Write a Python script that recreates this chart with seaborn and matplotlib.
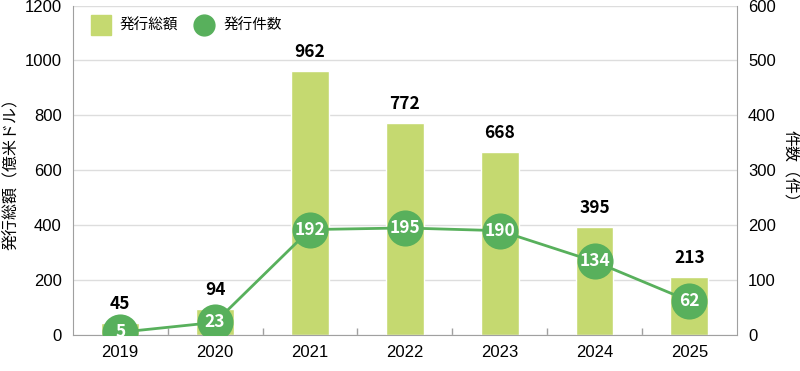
import numpy as np
import pandas as pd
import seaborn as sns
import matplotlib.pyplot as plt
from matplotlib.lines import Line2D

years = ['2019', '2020', '2021', '2022', '2023', '2024', '2025']
amounts = [45, 94, 962, 772, 668, 395, 213]   # 発行総額（億米ドル）
counts = [5, 23, 192, 195, 190, 134, 62]      # 発行件数（件）

bar_color = '#c5d970'
dot_color = '#58b05c'
grid_color = '#dddddd'
spine_color = '#a0a0a0'

sns.set_style('white')
plt.rcParams['font.family'] = ['Liberation Sans', 'Noto Sans CJK JP']
plt.rcParams['text.color'] = 'black'
plt.rcParams['axes.labelcolor'] = 'black'
plt.rcParams['xtick.color'] = 'black'
plt.rcParams['ytick.color'] = 'black'
jp = ['Noto Sans CJK JP', 'DejaVu Sans']

df = pd.DataFrame({'year': years, 'amount': amounts, 'count': counts})

fig = plt.figure(figsize=(8, 3.71), dpi=100)
ax = fig.add_axes([0.091, 0.097, 0.83, 0.888])

sns.barplot(data=df, x='year', y='amount', color=bar_color, width=0.4,
            saturation=1, ax=ax, zorder=2)
ax.set_xlim(-0.5, len(years) - 0.5)
ax.set_ylim(0, 1200)
ax.set_yticks(range(0, 1201, 200))
ax.yaxis.grid(True, color=grid_color, lw=1, zorder=0)
ax.set_axisbelow(True)
ax.set_xlabel('')
ax.set_ylabel('発行総額（億米ドル）', family=jp, fontsize=11.5, labelpad=3)
ax.tick_params(axis='y', length=0, labelsize=12, pad=8)
ax.tick_params(axis='x', length=0, labelsize=12, pad=7)
ax.set_xticks(np.arange(0.5, len(years) - 1), minor=True)
ax.tick_params(axis='x', which='minor', bottom=True, direction='in',
               length=5, color=spine_color, width=1)
for s in ['top', 'right']:
    ax.spines[s].set_visible(False)
ax.spines['left'].set_color(spine_color)
ax.spines['bottom'].set_color(spine_color)

for i, v in enumerate(amounts):
    ax.annotate(str(v), (i, v), xytext=(0, 7), textcoords='offset points',
                ha='center', va='bottom', fontsize=12.5, fontweight='bold',
                family=jp)

ax2 = ax.twinx()
ax2.plot(range(len(years)), counts, color=dot_color, lw=2, marker='o',
         markersize=26, markeredgewidth=0, zorder=3)
ax2.set_ylim(0, 600)
ax2.set_yticks(range(0, 601, 100))
ax2.tick_params(axis='y', length=0, labelsize=12, pad=8)
ax2.set_ylabel('件数（件）', family=jp, fontsize=11.5, rotation=-90,
               labelpad=16)
for s in ['top', 'left', 'bottom']:
    ax2.spines[s].set_visible(False)
ax2.spines['right'].set_color(spine_color)
for i, c in enumerate(counts):
    ax2.text(i, c, str(c), ha='center', va='center', color='white',
             fontsize=12.5, fontweight='bold', family=jp, zorder=4)

handles = [
    Line2D([], [], marker='s', ls='', color=bar_color, markersize=14),
    Line2D([], [], marker='o', ls='', color=dot_color, markersize=15),
]
ax.legend(handles, ['発行総額', '発行件数'], loc='upper left', ncol=2,
          frameon=False, prop={'family': jp, 'size': 10.5},
          bbox_to_anchor=(0.0, 1.0), handletextpad=0.3, columnspacing=0.8)

fig.savefig('out.png', dpi=100)
